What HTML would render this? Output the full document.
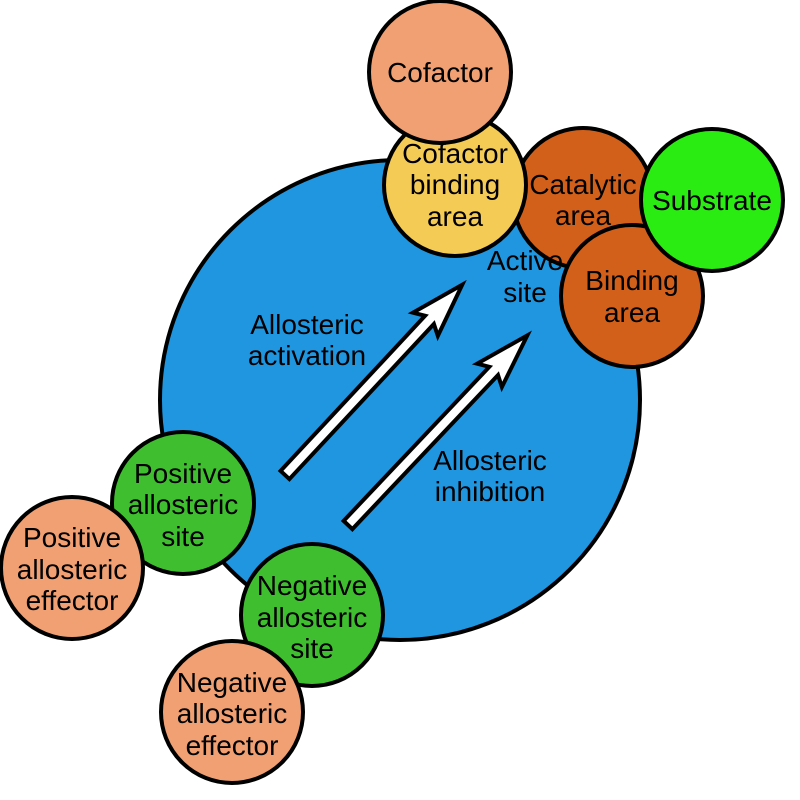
<!DOCTYPE html>
<html><head><meta charset="utf-8"><style>body{margin:0;background:#fff}svg{display:block}text{font-family:"Liberation Sans",Arial,sans-serif;font-size:28px;text-anchor:middle}</style></head><body>
<svg width="800" height="800" viewBox="0 0 800 800">
<g stroke="#000" stroke-width="4">
<circle cx="400" cy="400" r="240" fill="#1f96df"/>
<circle cx="583" cy="198" r="70" fill="#d2601a"/>
</g>
<text x="583" y="194">Catalytic</text><text x="583" y="225">area</text>
<circle cx="455" cy="185" r="71" fill="#f4cb55" stroke="#000" stroke-width="4"/>
<text x="455" y="163">Cofactor</text><text x="455" y="194">binding</text><text x="455" y="226">area</text>
<circle cx="440" cy="72" r="71" fill="#f0a072" stroke="#000" stroke-width="4"/>
<text x="440" y="82">Cofactor</text>
<text x="525" y="270">Active</text><text x="525" y="302">site</text>
<circle cx="632" cy="296" r="71" fill="#d2601a" stroke="#000" stroke-width="4"/>
<text x="632" y="290">Binding</text><text x="632" y="322">area</text>
<circle cx="712" cy="200" r="71" fill="#2aec12" stroke="#000" stroke-width="4"/>
<text x="712" y="210">Substrate</text>
<g fill="#fff" stroke="#000" stroke-width="4" stroke-linejoin="miter">
<polygon transform="translate(285,475) rotate(-47.03)" points="0,-6 212,-6 206,-17 260,0 206,17 212,6 0,6"/>
<polygon transform="translate(348,525) rotate(-46.6)" points="0,-6 212,-6 206,-17 261,0 206,17 212,6 0,6"/>
</g>
<text x="307" y="334">Allosteric</text><text x="307" y="365">activation</text>
<text x="490" y="470">Allosteric</text><text x="490" y="501">inhibition</text>
<circle cx="183" cy="503" r="71" fill="#3fbf2f" stroke="#000" stroke-width="4"/>
<text x="183" y="483">Positive</text><text x="183" y="514">allosteric</text><text x="183" y="546">site</text>
<circle cx="72" cy="568" r="71" fill="#f0a072" stroke="#000" stroke-width="4"/>
<text x="72" y="547">Positive</text><text x="72" y="579">allosteric</text><text x="72" y="610">effector</text>
<circle cx="312" cy="615" r="71" fill="#3fbf2f" stroke="#000" stroke-width="4"/>
<text x="312" y="595">Negative</text><text x="312" y="627">allosteric</text><text x="312" y="658">site</text>
<circle cx="232" cy="712" r="71" fill="#f0a072" stroke="#000" stroke-width="4"/>
<text x="232" y="692">Negative</text><text x="232" y="723">allosteric</text><text x="232" y="755">effector</text>
</svg>
</body></html>
